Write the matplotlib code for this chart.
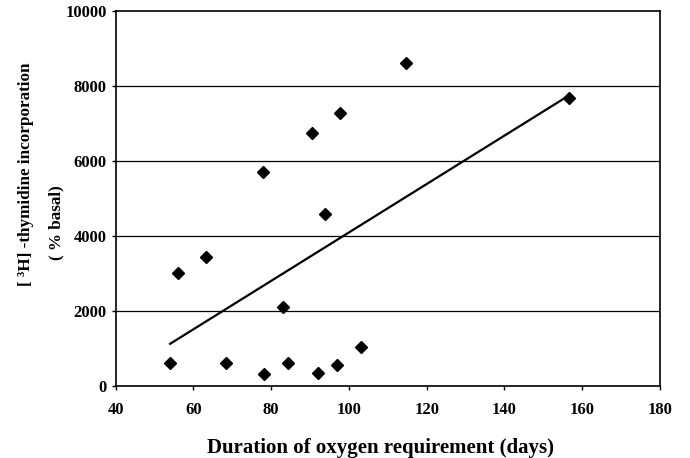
import numpy as np
import matplotlib
matplotlib.use("Agg")
import matplotlib.pyplot as plt

# Duration of oxygen requirement (days) and thymidine incorporation (% basal)
duration_days = [54.0, 56.1, 63.2, 68.3, 77.8, 78.2, 83.0, 84.2, 90.6,
                 92.1, 93.9, 97.7, 96.9, 103.0, 114.7, 156.5]
incorporation = [600, 3000, 3450, 600, 5700, 300, 2100, 600, 6750,
                 350, 4600, 7300, 550, 1030, 8620, 7700]

x_ticks = [40, 60, 80, 100, 120, 140, 160, 180]
y_ticks = [0, 2000, 4000, 6000, 8000, 10000]

plt.rcParams['font.family'] = ['Liberation Serif', 'DejaVu Serif']
plt.rcParams['font.weight'] = 'bold'

fig = plt.figure(figsize=(6.9, 4.58), dpi=100)
ax = fig.add_axes([0.1677, 0.1579, 0.7888, 0.8170])

ax.set_xlim(40, 180)
ax.set_ylim(0, 10000)
ax.set_xticks(x_ticks)
ax.set_yticks(y_ticks)
ax.tick_params(axis='both', labelsize=12, direction='out', length=3,
               width=1, color='black')
ax.tick_params(axis='x', pad=9)
for lbl in ax.get_xticklabels() + ax.get_yticklabels():
    lbl.set_fontweight('bold')

# horizontal gridlines
for yv in y_ticks[1:-1]:
    ax.axhline(yv, color='black', linewidth=0.9, zorder=1)

for sp in ax.spines.values():
    sp.set_linewidth(1.2)
    sp.set_color('black')

x = np.array(duration_days, dtype=float)
y = np.array(incorporation, dtype=float)
ax.plot(x, y, linestyle='none', marker='D', markersize=6,
        color='black', zorder=3)

# least-squares trend line across the observed range
slope, intercept = np.polyfit(x, y, 1)
xs = np.array([x.min(), x.max()])
ax.plot(xs, slope * xs + intercept, color='black', linewidth=1.6, zorder=2)

fig.text(0.552, 0.0109, 'Duration of oxygen requirement (days)',
         ha='center', va='baseline', fontsize=15, fontweight='bold')
fig.text(0.037, 0.620, '[ ³H] -thymidine incorporation', rotation=90,
         ha='center', va='center', fontsize=12.3, fontweight='bold')
fig.text(0.082, 0.515, '( % basal)', rotation=90,
         ha='center', va='center', fontsize=12.3, fontweight='bold')

fig.savefig('out.png', dpi=100)
